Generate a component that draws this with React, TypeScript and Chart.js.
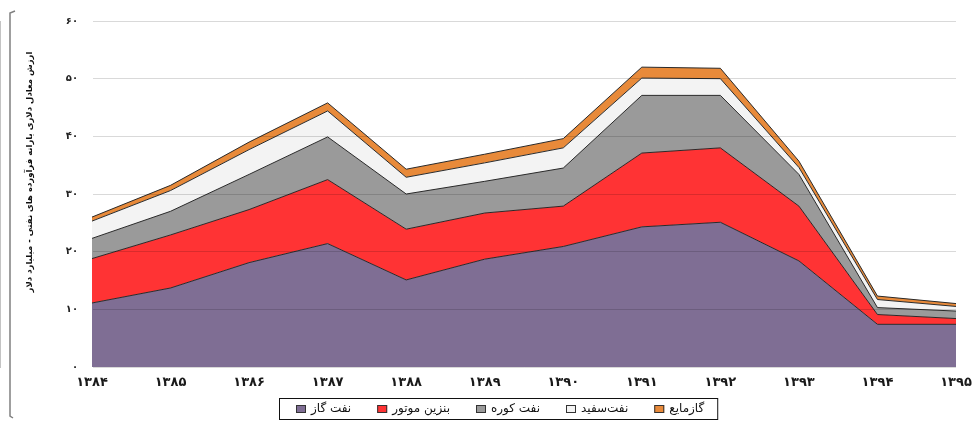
import React, { useEffect, useRef } from 'react';
import { Chart, registerables } from 'chart.js';

Chart.register(...registerables);

const categories = ['۱۳۸۴', '۱۳۸۵', '۱۳۸۶', '۱۳۸۷', '۱۳۸۸', '۱۳۸۹', '۱۳۹۰', '۱۳۹۱', '۱۳۹۲', '۱۳۹۳', '۱۳۹۴', '۱۳۹۵'];
const gasOil = [11.1, 13.7, 18.1, 21.4, 15.1, 18.7, 20.9, 24.3, 25.1, 18.4, 7.4, 7.4];
const gasoline = [7.7, 9.2, 9.2, 11.1, 8.8, 8.0, 7.0, 12.8, 12.9, 9.5, 1.7, 1.0];
const fuelOil = [3.5, 4.1, 6.1, 7.4, 6.1, 5.5, 6.6, 10.0, 9.1, 5.5, 1.2, 1.3];
const kerosene = [3.0, 3.6, 4.3, 4.5, 2.9, 3.2, 3.5, 3.0, 2.9, 1.2, 1.4, 0.8];
const lpg = [0.7, 0.9, 1.3, 1.4, 1.4, 1.5, 1.6, 1.9, 1.8, 1.1, 0.6, 0.5];

const seriesLabels = ['نفت گاز', 'بنزین موتور', 'نفت کوره', 'نفت‌سفید', 'گازمایع'];
const seriesColors = ['#7f6e94', '#ff3334', '#9a9a9a', '#f3f3f3', '#e88a3a'];
const yTickLabels = ['۰', '۱۰', '۲۰', '۳۰', '۴۰', '۵۰', '۶۰'];
const yTitle = 'ارزش معادل دلاری یارانه فرآورده های نفتی - میلیارد دلار';

const FONT = '"DejaVu Sans", "Noto Sans", sans-serif';

const decorPlugin = {
  id: 'decor',
  afterDraw(chart: any) {
    const ctx = chart.ctx as CanvasRenderingContext2D;
    ctx.save();
    // left bracket border
    ctx.strokeStyle = '#808080';
    ctx.lineWidth = 1.5;
    ctx.beginPath();
    ctx.moveTo(15, 11);
    ctx.lineTo(10, 13);
    ctx.lineTo(10, 416);
    ctx.lineTo(13, 418);
    ctx.stroke();
    ctx.restore();

    // y axis title
    ctx.save();
    ctx.translate(30, 172);
    ctx.rotate(-Math.PI / 2);
    ctx.font = 'bold 8.5px ' + FONT;
    ctx.fillStyle = '#111';
    ctx.textAlign = 'center';
    ctx.textBaseline = 'middle';
    ctx.fillText(yTitle, 0, 0);
    ctx.restore();

    // legend
    ctx.save();
    ctx.font = '12px ' + FONT;
    ctx.textBaseline = 'middle';
    ctx.textAlign = 'left';
    const ds = chart.data.datasets;
    const box = 10;
    const gapAfterBox = 5;
    const gapItems = 26;
    const widths = ds.map((d: any) => box + gapAfterBox + ctx.measureText(d.label).width);
    const total = widths.reduce((a: number, b: number) => a + b, 0) + gapItems * (ds.length - 1);
    const startX = Math.round(500 - total / 2);
    const cy = 409;
    let x = startX;
    ds.forEach((d: any, i: number) => {
      ctx.fillStyle = d.backgroundColor;
      ctx.fillRect(x, cy - 4, box, 8);
      ctx.strokeStyle = '#333';
      ctx.lineWidth = 1;
      ctx.strokeRect(x + 0.5, cy - 4 + 0.5, box - 1, 7);
      ctx.fillStyle = '#111';
      ctx.fillText(d.label, x + box + gapAfterBox, cy);
      x += widths[i] + gapItems;
    });
    const endX = x - gapItems;
    ctx.strokeStyle = '#111';
    ctx.lineWidth = 1;
    ctx.strokeRect(startX - 16.5, 398.5, endX - startX + 30, 21);
    ctx.restore();
  },
};

export default function App() {
  const ref = useRef<HTMLCanvasElement>(null);
  useEffect(() => {
    document.body.style.margin = '0';
    const canvas = ref.current!;
    const values = [gasOil, gasoline, fuelOil, kerosene, lpg];
    const chart = new Chart(canvas, {
      type: 'line',
      data: {
        labels: categories,
        datasets: values.map((v, i) => ({
          label: seriesLabels[i],
          data: v,
          backgroundColor: seriesColors[i],
          borderColor: '#2a2a2a',
          borderWidth: 1,
          pointRadius: 0,
          tension: 0,
          fill: i === 0 ? 'origin' : '-1',
        })),
      },
      options: {
        animation: false,
        responsive: false,
        devicePixelRatio: 1,
        layout: { padding: { left: 0, right: 24, top: 21, bottom: 24 } },
        plugins: {
          legend: { display: false },
          tooltip: { enabled: false },
          title: { display: false },
        },
        scales: {
          x: {
            type: 'category',
            offset: false,
            grid: { display: false, drawTicks: false },
            border: { display: false },
            ticks: {
              color: '#1a1a1a',
              font: { family: FONT, size: 13, weight: 'bold' },
              padding: 8,
              maxRotation: 0,
              autoSkip: false,
            },
            afterFit: (s: any) => { s.height = 30; },
          },
          y: {
            stacked: true,
            min: 0,
            max: 60,
            ticks: {
              stepSize: 10,
              color: '#222',
              font: { family: FONT, size: 10, weight: 'bold' },
              padding: 14,
              callback: (v: any) => yTickLabels[Math.round(Number(v) / 10)] ?? '',
            },
            grid: { color: 'rgba(0,0,0,0.15)', drawTicks: false, z: 1 },
            border: { display: true, color: '#8a8a8a' },
            afterFit: (s: any) => { s.width = 92; },
          },
        },
      },
      plugins: [decorPlugin],
    });
    return () => chart.destroy();
  }, []);
  return <canvas ref={ref} width={980} height={421} style={{ display: 'block', width: 980, height: 421 }} />;
}
